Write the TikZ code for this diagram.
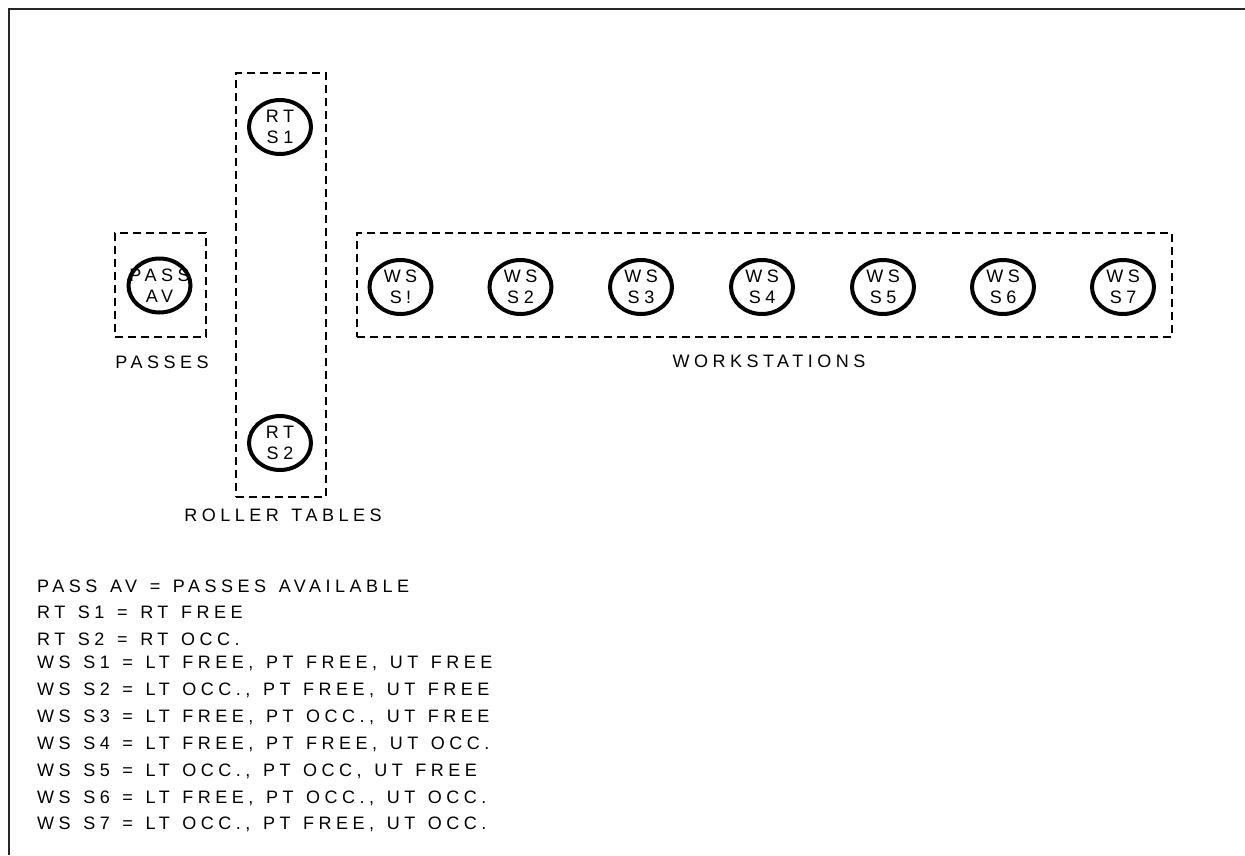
\documentclass[tikz,border=0pt]{standalone}
\usepackage{fontspec}
\setmainfont{Liberation Sans}[LetterSpace=25, WordSpace=1.33]
\usetikzlibrary{shapes.geometric}
\newcommand\stntext[2]{\makebox[0pt]{#1}\\\makebox[0pt]{#2}}
\tikzset{
  every node/.style={font=\fontsize{18}{21}\selectfont},
  station/.style={ellipse, draw, line width=4pt, minimum width=62pt, minimum height=54pt, inner sep=0pt, align=center, text width=0pt},
  groupbox/.style={draw, line width=1.6pt, dash pattern=on 8pt off 5pt, inner sep=0pt},
  caption/.style={inner sep=0pt},
  legend/.style={anchor=west, inner sep=0pt},
  frameline/.style={line width=1.3pt, draw=black!85}
}
\begin{document}
\begin{tikzpicture}[x=1pt,y=-1pt]
\useasboundingbox (0,0) rectangle (1245,855);
\draw[frameline] (9,855) -- (9,9) -- (1245,9);
% group boxes
\node[groupbox, minimum width=91pt, minimum height=104pt] (passbox) at (160.5,285) {};
\node[groupbox, minimum width=90pt, minimum height=424pt] (rtbox) at (281,285) {};
\node[groupbox, minimum width=815pt, minimum height=104pt] (wsbox) at (764.5,285) {};
% stations
\node[station] (pass) at (159.5,285.5) {\stntext{PASS}{AV}};
\node[station] (rt1) at (280,127) {\stntext{RT}{S1}};
\node[station] (rt2) at (280,443) {\stntext{RT}{S2}};
\node[station] (ws1) at (400.5,287) {\stntext{WS}{S!}};
\node[station] (ws2) at (520.5,287) {\stntext{WS}{S2}};
\node[station] (ws3) at (641,287) {\stntext{WS}{S3}};
\node[station] (ws4) at (762,287) {\stntext{WS}{S4}};
\node[station] (ws5) at (883,287) {\stntext{WS}{S5}};
\node[station] (ws6) at (1003,287) {\stntext{WS}{S6}};
\node[station] (ws7) at (1123,287) {\stntext{WS}{S7}};
% captions
\node[caption] (cpass) at (162,362) {PASSES};
\node[caption] (crt) at (283,515) {ROLLER TABLES};
\node[caption] (cws) at (769,361) {WORKSTATIONS};
% legend
\node[legend] (l1) at (37,586) {PASS AV = PASSES AVAILABLE};
\node[legend] (l2) at (37,612) {RT S1 = RT FREE};
\node[legend] (l3) at (37,639) {RT S2 = RT OCC.};
\node[legend] (l4) at (37,663) {WS S1 = LT FREE, PT FREE, UT FREE};
\node[legend] (l5) at (37,690) {WS S2 = LT OCC., PT FREE, UT FREE};
\node[legend] (l6) at (37,717) {WS S3 = LT FREE, PT OCC., UT FREE};
\node[legend] (l7) at (37,744) {WS S4 = LT FREE, PT FREE, UT OCC.};
\node[legend] (l8) at (37,771) {WS S5 = LT OCC., PT OCC, UT FREE};
\node[legend] (l9) at (37,798) {WS S6 = LT FREE, PT OCC., UT OCC.};
\node[legend] (l10) at (37,824) {WS S7 = LT OCC., PT FREE, UT OCC.};
\end{tikzpicture}
\end{document}
